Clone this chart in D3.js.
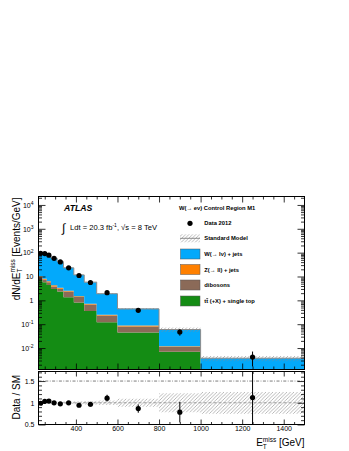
<!DOCTYPE html>
<html>
<head>
<meta charset="utf-8">
<script src="https://cdn.jsdelivr.net/npm/d3@7"></script>
<style>
  body { margin: 0; background: #fff; }
  svg { font-family: "Liberation Sans", Arial, Helvetica, sans-serif; }
</style>
</head>
<body>
<div id="chart"></div>
<script>
// Binning of the E_T^miss distribution (GeV)
var binEdges = [220, 240, 260, 280, 310, 340, 390, 440, 500, 600, 800, 1000, 1500];

// Data 2012 (events / GeV) and relative stat. errors
var dataValues = [94, 91, 78, 58, 41, 23, 11, 5.6, 2.1, 0.38, 0.047, 0.0042];
var dataErrUp = [0.02, 0.02, 0.02, 0.025, 0.03, 0.035, 0.045, 0.055, 0.07, 0.11, 0.3, 0.7];
var dataErrDown = [0.02, 0.02, 0.02, 0.025, 0.03, 0.035, 0.045, 0.055, 0.07, 0.11, 0.3, 0.6];

// Background expectations (events / GeV)
var wJets = [84.7, 79.9, 68.7, 53.8, 38.6, 20.5, 10.2, 5.07, 1.65, 0.35, 0.048, 0.0026];
var zJets = [1.0, 0.8, 0.6, 0.45, 0.3, 0.2, 0.1, 0.055, 0.015, 0.008, 0.0005, 0.00005];
var dibosons = [2.13, 1.57, 1.31, 0.78, 0.73, 0.99, 0.55, 0.31, 0.11, 0.036, 0.0044, 0.0003];
var topQuark = [7.18, 5.75, 4.44, 3.02, 2.35, 1.36, 0.82, 0.36, 0.122, 0.045, 0.007, 0.0008];

// Relative uncertainty on the Standard Model prediction
var smRelErr = [0.02, 0.02, 0.02, 0.02, 0.025, 0.03, 0.035, 0.04, 0.05, 0.09, 0.22, 0.25];

// Tick labels
var xTickLabels = [400, 600, 800, 1000, 1200, 1400];
var yDecades = [-2, -1, 0, 1, 2, 3, 4];
var ratioTickLabels = [0.5, 1, 1.5];

// Legend
var legendHeader = "W(\u2192 e\u03bd) Control Region M1";
var legendLabels = ["Data 2012", "Standard Model", "W(\u2192 l\u03bd) + jets", "Z(\u2192 ll) + jets", "dibosons", "tt (+X) + single top"];

// Colours of the stack
var colors = {wjets: "#03a9fb", zjets: "#ff8000", diboson: "#8b6a58", top: "#148c14"};

// Define SVG area and pad positions
var svgWidth = 349;
var svgHeight = 451;
var plotLeft = 38.5, plotRight = 304.5;
var mainTop = 196.5, mainBottom = 369.5;
var ratioTop = 371.5, ratioBottom = 424.5;
var yMin = 1.26e-3, yMax = 2.26e4;

var svg = d3.select("#chart")
  .append("svg")
  .attr("width", svgWidth)
  .attr("height", svgHeight);

var defs = svg.append("defs");

// Hatch pattern for the SM uncertainty
var hatch = defs.append("pattern")
  .attr("id", "hatch")
  .attr("patternUnits", "userSpaceOnUse")
  .attr("width", 3.5)
  .attr("height", 3.5);
hatch.append("path")
  .attr("d", "M-1,1 l2,-2 M0,3.5 l3.5,-3.5 M2.5,4.5 l2,-2")
  .attr("stroke", "#8a8a8a")
  .attr("stroke-width", 0.6);

defs.append("clipPath").attr("id", "clipMain")
  .append("rect")
  .attr("x", plotLeft).attr("y", mainTop)
  .attr("width", plotRight - plotLeft).attr("height", mainBottom - mainTop);
defs.append("clipPath").attr("id", "clipRatio")
  .append("rect")
  .attr("x", plotLeft).attr("y", ratioTop)
  .attr("width", plotRight - plotLeft).attr("height", ratioBottom - ratioTop);

// Scales
var xScale = d3.scaleLinear().domain([220, 1500]).range([plotLeft, plotRight]);
var yScale = d3.scaleLog().domain([yMin, yMax]).range([mainBottom, mainTop]);
var rScale = d3.scaleLinear().domain([0.5, 1.72]).range([ratioBottom, ratioTop]);

var nBins = binEdges.length - 1;
var edgeIdx = d3.range(binEdges.length);
function binOf(i) { return Math.min(i, nBins - 1); }
function center(i) { return (binEdges[i] + binEdges[i + 1]) / 2; }

// Stack the backgrounds
var rows = d3.range(nBins).map(function(i) {
  return {top: topQuark[i], diboson: dibosons[i], zjets: zJets[i], wjets: wJets[i]};
});
var stacked = d3.stack().keys(["top", "diboson", "zjets", "wjets"])(rows);
var smTotal = rows.map(function(r) { return r.top + r.diboson + r.zjets + r.wjets; });

function stepArea(scale, lo, hi, floor) {
  return d3.area()
    .curve(d3.curveStepAfter)
    .x(function(i) { return xScale(binEdges[i]); })
    .y0(function(i) { return scale(Math.max(lo(binOf(i)), floor)); })
    .y1(function(i) { return scale(Math.max(hi(binOf(i)), floor)); });
}

// ---------- Main pad ----------
var mainG = svg.append("g").attr("clip-path", "url(#clipMain)");

stacked.forEach(function(layer) {
  mainG.append("path")
    .datum(edgeIdx)
    .attr("fill", colors[layer.key])
    .attr("d", stepArea(yScale, function(i) { return layer[i][0]; }, function(i) { return layer[i][1]; }, yMin * 0.5));
});

// SM uncertainty band and total line
mainG.append("path")
  .datum(edgeIdx)
  .attr("fill", "url(#hatch)")
  .attr("d", stepArea(yScale,
    function(i) { return smTotal[i] * (1 - smRelErr[i]); },
    function(i) { return smTotal[i] * (1 + smRelErr[i]); }, yMin * 0.5));

mainG.append("path")
  .datum(edgeIdx)
  .attr("fill", "none")
  .attr("stroke", "#8c8c8c")
  .attr("stroke-width", 1)
  .attr("d", d3.line().curve(d3.curveStepAfter)
    .x(function(i) { return xScale(binEdges[i]); })
    .y(function(i) { return yScale(smTotal[binOf(i)]); }));

// Data points
var dataIdx = d3.range(nBins);
mainG.selectAll("line.err")
  .data(dataIdx)
  .enter()
  .append("line")
  .attr("x1", function(i) { return xScale(center(i)); })
  .attr("x2", function(i) { return xScale(center(i)); })
  .attr("y1", function(i) { return yScale(dataValues[i] * (1 + dataErrUp[i])); })
  .attr("y2", function(i) { return yScale(dataValues[i] * (1 - dataErrDown[i])); })
  .attr("stroke", "black")
  .attr("stroke-width", 1);
mainG.selectAll("circle")
  .data(dataIdx)
  .enter()
  .append("circle")
  .attr("cx", function(i) { return xScale(center(i)); })
  .attr("cy", function(i) { return yScale(dataValues[i]); })
  .attr("r", 2.6)
  .attr("fill", "black");

// ---------- Ratio pad ----------
var ratioG = svg.append("g").attr("clip-path", "url(#clipRatio)");

ratioG.append("path")
  .datum(edgeIdx)
  .attr("fill", "url(#hatch)")
  .attr("d", stepArea(rScale,
    function(i) { return 1 - smRelErr[i]; },
    function(i) { return 1 + smRelErr[i]; }, 0));

ratioG.append("line")
  .attr("x1", plotLeft).attr("x2", plotRight)
  .attr("y1", rScale(1.5)).attr("y2", rScale(1.5))
  .attr("stroke", "#222").attr("stroke-width", 0.6)
  .attr("stroke-dasharray", "3,1.5,0.8,1.5");
ratioG.append("line")
  .attr("x1", plotLeft).attr("x2", plotRight)
  .attr("y1", rScale(1)).attr("y2", rScale(1))
  .attr("stroke", "#888").attr("stroke-width", 0.8)
  .attr("stroke-dasharray", "3,2");

var ratio = dataIdx.map(function(i) { return dataValues[i] / smTotal[i]; });
ratioG.selectAll("line.err")
  .data(dataIdx)
  .enter()
  .append("line")
  .attr("x1", function(i) { return xScale(center(i)); })
  .attr("x2", function(i) { return xScale(center(i)); })
  .attr("y1", function(i) { return rScale(ratio[i] * (1 + dataErrUp[i])); })
  .attr("y2", function(i) { return rScale(ratio[i] * (1 - dataErrDown[i])); })
  .attr("stroke", "black")
  .attr("stroke-width", 1);
ratioG.selectAll("circle")
  .data(dataIdx)
  .enter()
  .append("circle")
  .attr("cx", function(i) { return xScale(center(i)); })
  .attr("cy", function(i) { return rScale(ratio[i]); })
  .attr("r", 2.6)
  .attr("fill", "black");

// ---------- Axes (ticks inside on all four sides) ----------
var xMinor = d3.range(250, 1500, 50).filter(function(v) { return v % 200 !== 0; });
var yMinor = [];
d3.range(-3, 5).forEach(function(k) {
  d3.range(2, 10).forEach(function(m) {
    var v = m * Math.pow(10, k);
    if (v > yMin && v < yMax) yMinor.push(v);
  });
});
var rMinor = d3.range(6, 18).map(function(v) { return v / 10; }).filter(function(v) { return v !== 1 && v !== 1.5; });

function addAxis(axis, tx, ty) {
  var g = svg.append("g")
    .attr("transform", "translate(" + tx + "," + ty + ")")
    .call(axis);
  g.select(".domain").remove();
  g.selectAll(".tick line").attr("stroke", "black").attr("stroke-width", 0.8);
  g.selectAll("text").attr("font-size", 7).attr("fill", "black")
    .style("font-family", "'Liberation Sans', Arial, sans-serif");
  return g;
}

// main pad x ticks
addAxis(d3.axisBottom(xScale).tickValues(xTickLabels).tickSize(-6).tickFormat(""), 0, mainBottom);
addAxis(d3.axisBottom(xScale).tickValues(xMinor).tickSize(-3).tickFormat(""), 0, mainBottom);
addAxis(d3.axisTop(xScale).tickValues(xTickLabels).tickSize(-6).tickFormat(""), 0, mainTop);
addAxis(d3.axisTop(xScale).tickValues(xMinor).tickSize(-3).tickFormat(""), 0, mainTop);

// main pad y ticks with 10^n labels
var yLabelAxis = addAxis(d3.axisLeft(yScale)
  .tickValues(yDecades.map(function(k) { return Math.pow(10, k); }))
  .tickSize(-7).tickPadding(5).tickFormat(""), plotLeft, 0);
yLabelAxis.selectAll(".tick text").each(function(v) {
  var k = Math.round(Math.log10(v));
  var t = d3.select(this);
  if (k === 0) { t.text("1"); return; }
  if (k === 1) { t.text("10"); return; }
  t.text("10");
  t.append("tspan").attr("font-size", 5).attr("dy", "-0.55em").text(k);
});
addAxis(d3.axisLeft(yScale).tickValues(yMinor).tickSize(-3.5).tickFormat(""), plotLeft, 0);
addAxis(d3.axisRight(yScale).tickValues(yDecades.map(function(k) { return Math.pow(10, k); })).tickSize(-7).tickFormat(""), plotRight, 0);
addAxis(d3.axisRight(yScale).tickValues(yMinor).tickSize(-3.5).tickFormat(""), plotRight, 0);

// ratio pad ticks
addAxis(d3.axisBottom(xScale).tickValues(xTickLabels).tickSize(-5).tickPadding(2).tickFormat(d3.format("d")), 0, ratioBottom);
addAxis(d3.axisBottom(xScale).tickValues(xMinor).tickSize(-2.5).tickFormat(""), 0, ratioBottom);
addAxis(d3.axisTop(xScale).tickValues(xTickLabels).tickSize(-5).tickFormat(""), 0, ratioTop);
addAxis(d3.axisTop(xScale).tickValues(xMinor).tickSize(-2.5).tickFormat(""), 0, ratioTop);
addAxis(d3.axisLeft(rScale).tickValues(ratioTickLabels).tickSize(-7).tickPadding(4)
  .tickFormat(function(v) { return v === 1 ? "1" : d3.format(".1f")(v); }), plotLeft, 0);
addAxis(d3.axisLeft(rScale).tickValues(rMinor).tickSize(-3.5).tickFormat(""), plotLeft, 0);
addAxis(d3.axisRight(rScale).tickValues(ratioTickLabels).tickSize(-7).tickFormat(""), plotRight, 0);
addAxis(d3.axisRight(rScale).tickValues(rMinor).tickSize(-3.5).tickFormat(""), plotRight, 0);

// Frames
[[mainTop, mainBottom], [ratioTop, ratioBottom]].forEach(function(p) {
  svg.append("rect")
    .attr("x", plotLeft).attr("y", p[0])
    .attr("width", plotRight - plotLeft).attr("height", p[1] - p[0])
    .attr("fill", "none").attr("stroke", "black").attr("stroke-width", 1);
});

// ---------- Axis titles ----------
var yTitle = svg.append("text")
  .attr("transform", "translate(19.5," + (mainTop + 1) + ") rotate(-90)")
  .attr("text-anchor", "end")
  .attr("font-size", 10);
yTitle.append("tspan").text("dN/dE");
yTitle.append("tspan").attr("font-size", 6.5).attr("dy", 2.5).text("T");
yTitle.append("tspan").attr("font-size", 6.5).attr("dx", -4).attr("dy", -7).text("miss");
yTitle.append("tspan").attr("dy", 4.5).text(" [Events/GeV]");

svg.append("text")
  .attr("transform", "translate(19.5," + (ratioTop + 3.5) + ") rotate(-90)")
  .attr("text-anchor", "end")
  .attr("font-size", 10)
  .text("Data / SM");

var xTitle = svg.append("text")
  .attr("x", plotRight)
  .attr("y", 446)
  .attr("text-anchor", "end")
  .attr("font-size", 10);
xTitle.append("tspan").text("E");
xTitle.append("tspan").attr("font-size", 6.5).attr("dy", 2.5).text("T");
xTitle.append("tspan").attr("font-size", 6.5).attr("dx", -4).attr("dy", -7).text("miss");
xTitle.append("tspan").attr("dy", 4.5).text(" [GeV]");

// ---------- ATLAS label and luminosity ----------
svg.append("text")
  .attr("x", 64).attr("y", 211)
  .attr("font-size", 8.7)
  .attr("font-weight", "bold")
  .attr("font-style", "italic")
  .text("ATLAS");

svg.append("text")
  .attr("x", 62).attr("y", 231.5)
  .attr("font-size", 12)
  .text("\u222B");
var lumi = svg.append("text")
  .attr("x", 70).attr("y", 229.5)
  .attr("font-size", 7.6);
lumi.append("tspan").text("Ldt = 20.3 fb");
lumi.append("tspan").attr("font-size", 5).attr("dy", -3).text("-1");
lumi.append("tspan").attr("dy", 3).text(", \u221As = 8 TeV");

// ---------- Legend ----------
var legend = svg.append("g")
  .attr("font-size", 5.8)
  .attr("font-weight", "bold");

legend.append("text")
  .attr("x", 179).attr("y", 209.5)
  .text(legendHeader);

var legendY = [223.3, 238.3, 254, 269.5, 285, 301];
var boxFill = [null, null, colors.wjets, colors.zjets, colors.diboson, colors.top];

legendLabels.forEach(function(label, i) {
  var cy = legendY[i];
  if (i === 0) {
    legend.append("circle").attr("cx", 190).attr("cy", cy).attr("r", 2.6).attr("fill", "black");
  } else if (i === 1) {
    legend.append("rect").attr("x", 180).attr("y", cy - 4).attr("width", 20).attr("height", 8)
      .attr("fill", "url(#hatch)");
    legend.append("line").attr("x1", 180).attr("x2", 200).attr("y1", cy).attr("y2", cy)
      .attr("stroke", "#8c8c8c").attr("stroke-width", 1);
  } else {
    legend.append("rect").attr("x", 180.5).attr("y", cy - 5).attr("width", 19.5).attr("height", 10)
      .attr("fill", boxFill[i]).attr("stroke", "#555").attr("stroke-width", 0.5);
  }
  var t = legend.append("text").attr("x", 204.3).attr("y", cy + 2);
  if (i === 5) {
    t.append("tspan").text("t");
    t.append("tspan").style("text-decoration", "overline").text("t");
    t.append("tspan").text(" (+X) + single top");
  } else {
    t.text(label);
  }
});
</script>
</body>
</html>
